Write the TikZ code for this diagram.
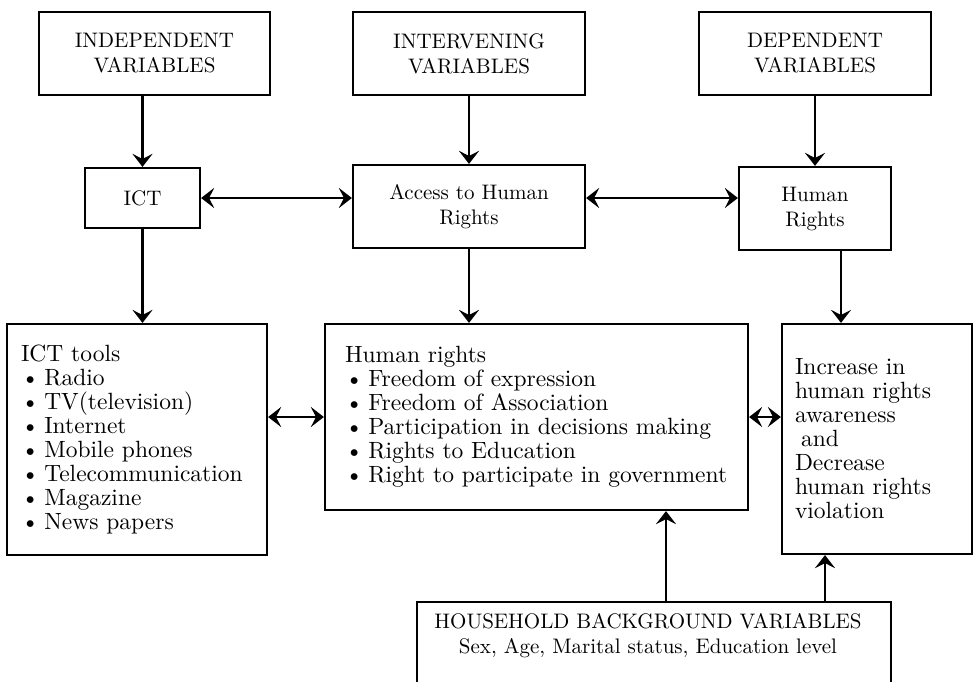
\documentclass[tikz,border=0pt]{standalone}
\usepackage{fontspec}
\setmainfont{lmroman10-regular}[Extension=.otf]
\usetikzlibrary{arrows.meta}
\newcommand{\itm}{\textbullet\hspace{5pt}}
\begin{document}
\begin{tikzpicture}[x=1pt,y=-1pt,line width=2.2pt]
\tikzstyle{box}=[draw, rectangle, inner sep=0pt, align=center, font=\fontsize{21}{25}\selectfont]
\tikzstyle{listbox}=[draw, rectangle, inner sep=0pt, align=left, font=\fontsize{23.5}{24}\selectfont]
\tikzstyle{arrow}=[-{Stealth[length=13pt,width=20pt,inset=5pt]}]
\tikzstyle{both}=[{Stealth[length=13pt,width=20pt,inset=5pt]}-{Stealth[length=13pt,width=20pt,inset=5pt]}]
\useasboundingbox (0,0) rectangle (974,681);
\clip (0,0) rectangle (974,681);

\node[box, minimum width=231, minimum height=83] (indep) at (154.5, 53.5) {INDEPENDENT\\VARIABLES};
\node[box, minimum width=232, minimum height=83] (interv) at (469, 53.5) {INTERVENING\\VARIABLES};
\node[box, minimum width=232, minimum height=83] (dep) at (815, 53.5) {DEPENDENT\\VARIABLES};

\node[box, minimum width=115, minimum height=60] (ict) at (142.5, 198) {ICT};
\node[box, minimum width=232, minimum height=83] (access) at (469, 206.5) {Access to Human\\Rights};
\node[box, minimum width=152, minimum height=83] (hr) at (815, 208.5) {Human\\Rights};

\node[listbox, minimum width=260, minimum height=231, text width=232] (tools) at (137, 439.5)
  {ICT tools\\ \itm Radio\\ \itm TV(television)\\ \itm Internet\\
   \itm Mobile phones\\ \itm Telecommunication\\ \itm Magazine\\ \itm News papers};
\node[listbox, minimum width=423, minimum height=186, text width=383] (rights) at (536.5, 417)
  {Human rights\\ \itm Freedom of expression\\ \itm Freedom of Association\\
   \itm Participation in decisions making\\ \itm Rights to Education\\
   \itm Right to participate in government};
\node[listbox, minimum width=190, minimum height=230, text width=164] (incr) at (877, 439)
  {Increase in\\ human rights\\ awareness\\ \hspace*{6pt}and\\ Decrease\\ human rights\\ violation};

\node[box, minimum width=474, minimum height=130] (hbg) at (654, 667) {};
\node[box, draw=none, anchor=north] (hbgtext) at (648, 612)
  {HOUSEHOLD BACKGROUND VARIABLES\\Sex, Age, Marital status, Education level};

\draw[arrow] (indep.south -| ict.north) -- (ict.north);
\draw[arrow] (interv.south) -- (access.north);
\draw[arrow] (dep.south) -- (hr.north);
\draw[both] (ict.east) -- (ict.east -| access.west);
\draw[both] (ict.east -| access.east) -- (ict.east -| hr.west);
\draw[arrow] (ict.south) -- (ict.south |- tools.north);
\draw[arrow] (access.south) -- (access.south |- rights.north);
\draw[arrow] ([xshift=26pt]hr.south) -- ([xshift=26pt]hr.south |- incr.north);
\draw[both] (rights.west -| tools.east) -- (rights.west);
\draw[both] (rights.east) -- (rights.east -| incr.west);
\draw[arrow] ([xshift=12pt]hbg.north) -- ([xshift=12pt]hbg.north |- rights.south);
\draw[arrow] ([xshift=171pt]hbg.north) -- ([xshift=171pt]hbg.north |- incr.south);
\end{tikzpicture}
\end{document}
